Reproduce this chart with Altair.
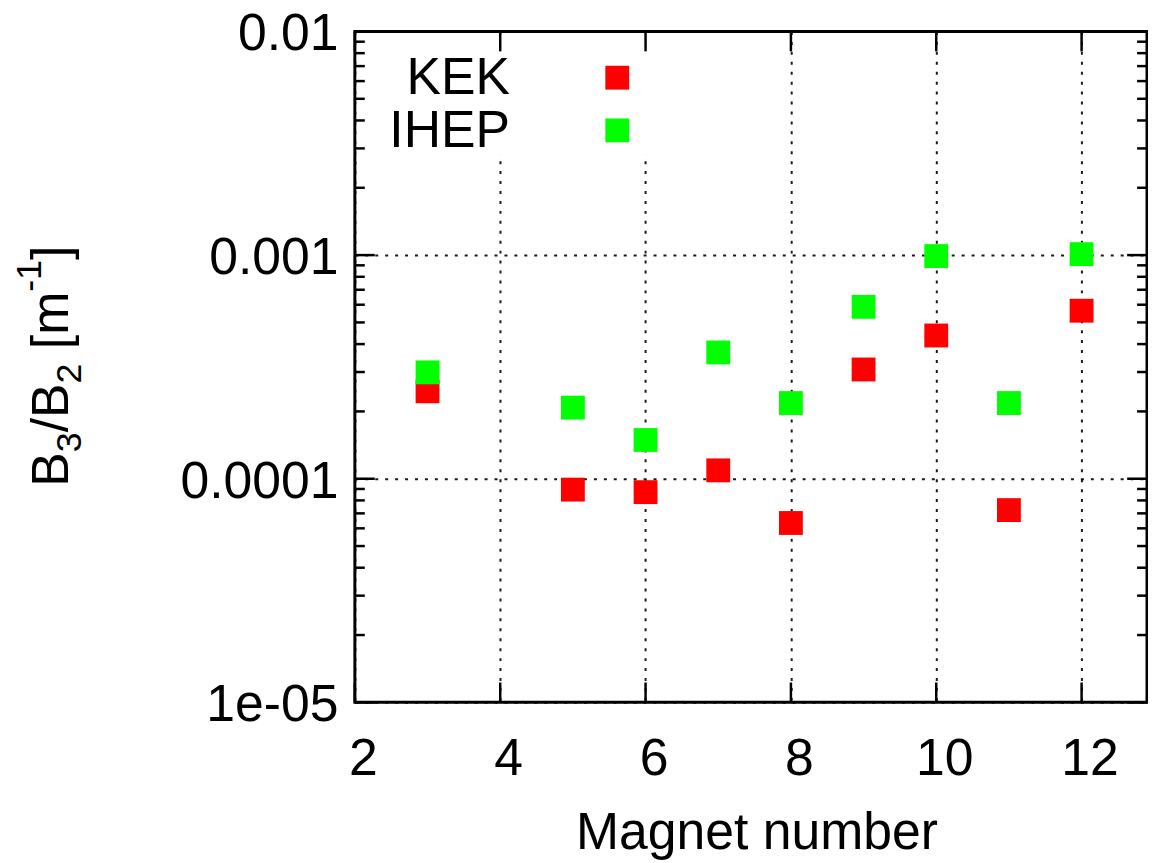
import altair as alt
import pandas as pd

# ---------------- data ----------------
MAGNETS = [3, 5, 6, 7, 8, 9, 10, 11, 12]
KEK = [2.46e-4, 8.94e-5, 8.71e-5, 1.09e-4, 6.34e-5, 3.08e-4, 4.37e-4, 7.24e-5, 5.64e-4]
IHEP = [2.99e-4, 2.08e-4, 1.49e-4, 3.67e-4, 2.18e-4, 5.87e-4, 9.9e-4, 2.18e-4, 1.01e-3]
SERIES = ["KEK", "IHEP"]
COLORS = ["#ff0000", "#00ff00"]

X_TICKS = [2, 4, 6, 8, 10, 12]
X_DOMAIN = [2, 12.9]
Y_TICKS = [1e-5, 1e-4, 1e-3, 1e-2]
Y_TICK_LABELS = ["1e-05", "0.0001", "0.001", "0.01"]
Y_MINOR = [m * 10.0 ** e for e in (-5, -4, -3) for m in range(2, 10)]
Y_DOMAIN = [1e-5, 1e-2]
X_TITLE = "Magnet number"
# y title pieces: (text, role)
Y_TITLE_PARTS = [("B", "main"), ("3", "sub"), ("/B", "main"), ("2", "sub"),
                 (" [m", "main"), ("-1", "sup"), ("]", "main")]

# ---------------- layout ----------------
W, H = 797, 675
FONT = "Liberation Sans"
FS = 52
FS_SMALL = 36
MAJOR, MINOR = 20, 10

rows = []
for i, (m, v) in enumerate(zip(MAGNETS, KEK)):
    rows.append({"magnet": m, "ratio": v, "series": "KEK", "idx": i})
for i, (m, v) in enumerate(zip(MAGNETS, IHEP)):
    rows.append({"magnet": m, "ratio": v, "series": "IHEP", "idx": 100 + i})
df = pd.DataFrame(rows)

xscale = alt.Scale(domain=X_DOMAIN, nice=False, zero=False)
yscale = alt.Scale(type="log", domain=Y_DOMAIN, nice=False)

label_expr = f"'{Y_TICK_LABELS[-1]}'"
for v, lab in reversed(list(zip(Y_TICKS[:-1], Y_TICK_LABELS[:-1]))):
    label_expr = f"datum.value < {v * 3} ? '{lab}' : ({label_expr})"

grid_kw = dict(grid=True, gridColor="black", gridOpacity=0.9, gridWidth=2, gridDash=[3, 7])

xaxis = alt.Axis(values=X_TICKS, format="d", ticks=False, tickSize=0, domain=False,
                 labelFont=FONT, labelFontSize=FS, labelColor="black", labelPadding=32,
                 labelOffset=8, labelFlush=False, labelOverlap=False,
                 title=X_TITLE, titleFont=FONT, titleFontSize=FS, titleFontWeight="normal",
                 titleColor="black", titleBaseline="alphabetic", titleAlign="center",
                 titleX=404, titleY=147, **grid_kw)
yaxis = alt.Axis(values=Y_TICKS, labelExpr=label_expr, ticks=False, tickSize=0, domain=False,
                 labelFont=FONT, labelFontSize=FS, labelColor="black", labelPadding=17,
                 labelBaseline="alphabetic", labelOffset=18.5,
                 labelFlush=False, labelOverlap=False, title="", **grid_kw)

color = alt.Color("series:N", scale=alt.Scale(domain=SERIES, range=COLORS), legend=None)

# white key box hiding grid lines
keybox = alt.Chart(pd.DataFrame({"k": [0]})).mark_rect(color="white").encode(
    x=alt.value(2), x2=alt.value(310), y=alt.value(2), y2=alt.value(124))

points = alt.Chart(df).mark_square(size=576, opacity=1, filled=True).encode(
    x=alt.X("magnet:Q", scale=xscale, axis=xaxis),
    y=alt.Y("ratio:Q", scale=yscale, axis=yaxis),
    color=color,
    order=alt.Order("idx:Q"),
)

ymaj = pd.DataFrame({"ratio": Y_TICKS})
ymin = pd.DataFrame({"ratio": Y_MINOR})
xmaj = pd.DataFrame({"magnet": X_TICKS})
rule = dict(color="black", strokeWidth=2.5)

def ytick(data, x0, x1):
    return alt.Chart(data).mark_rule(**rule).encode(
        y=alt.Y("ratio:Q", scale=yscale), x=alt.value(x0), x2=alt.value(x1))

def xtick(y0, y1):
    return alt.Chart(xmaj).mark_rule(**rule).encode(
        x=alt.X("magnet:Q", scale=xscale), y=alt.value(y0), y2=alt.value(y1))

ticks = [ytick(ymaj, 0, MAJOR), ytick(ymin, 0, MINOR),
         ytick(ymaj, W - MAJOR, W), ytick(ymin, W - MINOR, W),
         xtick(H - MAJOR, H), xtick(0, MAJOR)]

# key (one text + one symbol per series)
key_layers = []
for i, (name, col) in enumerate(zip(SERIES, COLORS)):
    kdf = pd.DataFrame({"series": [name]})
    key_layers.append(alt.Chart(kdf).mark_text(
        align="right", baseline="alphabetic", font=FONT, fontSize=FS, color="black").encode(
        x=alt.value(156), y=alt.value(63 + 53 * i), text="series:N"))
    key_layers.append(alt.Chart(kdf).mark_square(
        size=576, opacity=1, filled=True, color=col).encode(
        x=alt.value(264), y=alt.value(46.5 + 53 * i)))

# rotated y title built from pieces (Helvetica advance widths)
WIDTHS = {"B": 0.667, "/": 0.278, " ": 0.278, "[": 0.278, "]": 0.278, "m": 0.833,
          "-": 0.333, "1": 0.556, "2": 0.556, "3": 0.556}
base_x = {"main": -289, "sub": -276, "sup": -316}
ypos = 458.0
title_layers = []
for txt, role in Y_TITLE_PARTS:
    fs = FS if role == "main" else FS_SMALL
    lead = len(txt) - len(txt.lstrip(" "))
    ypos -= lead * WIDTHS[" "] * fs
    shown = txt.strip(" ")
    tdf = pd.DataFrame({"t": [shown]})
    title_layers.append(alt.Chart(tdf).mark_text(
        align="left", baseline="alphabetic", angle=270, font=FONT, fontSize=fs,
        color="black").encode(x=alt.value(base_x[role]), y=alt.value(ypos), text="t:N"))
    ypos -= sum(WIDTHS[c] for c in shown) * fs

chart = alt.layer(keybox, points, *ticks, *key_layers, *title_layers).properties(
    width=W, height=H,
    autosize=alt.AutoSizeParams(type="none"),
    padding={"left": 349, "top": 21, "right": 1, "bottom": 158},
    background="white",
).configure_view(stroke="black", strokeWidth=3)

chart.save("out.html", embed_options={"renderer": "svg", "actions": False})
